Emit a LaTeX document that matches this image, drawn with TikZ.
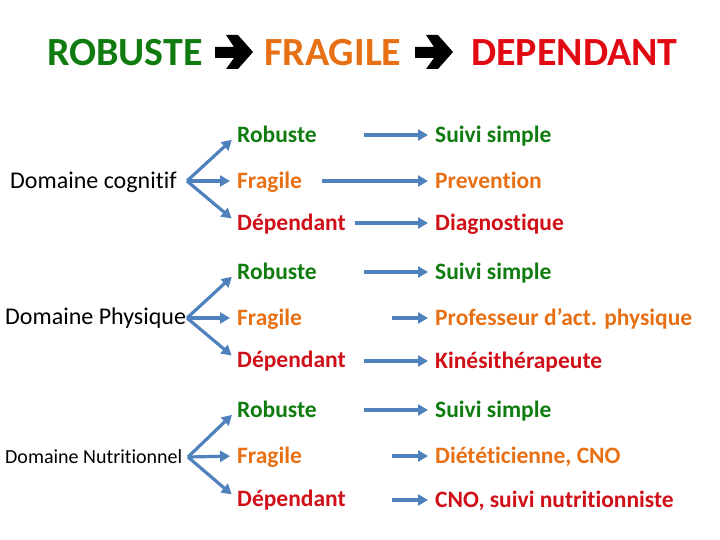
\documentclass[tikz,border=0pt]{standalone}
\usepackage{fontspec}
\setmainfont{Carlito}[Ligatures=NoCommon]
\usetikzlibrary{arrows.meta}
\definecolor{cgreen}{RGB}{16,124,16}
\definecolor{corange}{RGB}{232,112,20}
\definecolor{cred}{RGB}{226,10,18}
\definecolor{cdred}{RGB}{208,16,24}
\definecolor{cblue}{RGB}{79,129,189}
\tikzset{
  titletxt/.style={anchor=base west,inner sep=0pt,font=\bfseries\fontsize{40bp}{44bp}\selectfont},
  domtxt/.style={anchor=west,inner sep=0pt,text height=16bp,text depth=0pt,font=\fontsize{24bp}{28bp}\selectfont},
  levtxt/.style={anchor=west,inner sep=0pt,text height=15bp,text depth=0pt,font=\bfseries\fontsize{23.5bp}{27bp}\selectfont},
  rob/.style={levtxt,text=cgreen},
  fra/.style={levtxt,text=corange},
  dep/.style={levtxt,text=cdred},
  conn/.style={draw=cblue,line width=3.2bp,-{Triangle[length=10bp,width=11bp]},shorten >=7bp},
  bigarrow/.style={fill=black}
}
\begin{document}
\begin{tikzpicture}[x=1bp,y=-1bp]
\useasboundingbox (0,0) rectangle (720,540);
% title
\node[titletxt,text=cgreen] (t1) at (47,66) {ROBUSTE};
\node[titletxt,text=corange] (t2) at (264,66) {FRAGILE};
\node[titletxt,text=cred] (t3) at (471,66) {DEPENDANT};
\foreach \sx in {215,415}{
  \fill[bigarrow,shift={(\sx,0)}] (0,47) -- (19,47) -- (11,35) -- (23,35) -- (38,52) -- (23,69) -- (11,69) -- (19,58) -- (0,58) -- cycle;
}
% domains
\node[domtxt] (d1) at (10,181) {Domaine cognitif};
\node[domtxt] (d2) at (5,316) {Domaine Physique};
\node[domtxt,text height=13bp,font=\fontsize{20bp}{24bp}\selectfont] (d3) at (5,456.5) {Domaine Nutritionnel};
\coordinate (a1) at (187,181);
\coordinate (a2) at (187,318);
\coordinate (a3) at (188,457);
% levels
\node[rob] (m11) at (237,135) {Robuste};
\node[fra] (m12) at (237,181) {Fragile};
\node[dep] (m13) at (237,223) {Dépendant};
\node[rob] (m21) at (237,272) {Robuste};
\node[fra] (m22) at (237,318) {Fragile};
\node[dep] (m23) at (237,360) {Dépendant};
\node[rob] (m31) at (237,410) {Robuste};
\node[fra] (m32) at (237,456) {Fragile};
\node[dep] (m33) at (237,499) {Dépendant};
% outcomes
\node[rob] (r11) at (435,135) {Suivi simple};
\node[fra] (r12) at (435,181) {Prevention};
\node[dep] (r13) at (435,223) {Diagnostique};
\node[rob] (r21) at (435,272) {Suivi simple};
\node[fra] (r22) at (435,318) {Professeur d’act. physique};
\node[dep] (r23) at (435,361) {Kinésithérapeute};
\node[rob] (r31) at (435,410) {Suivi simple};
\node[fra] (r32) at (435,456) {Diététicienne, CNO};
\node[dep] (r33) at (435,500) {CNO, suivi nutritionniste};
% fan arrows
\foreach \g in {1,2,3}{
  \foreach \r in {1,2,3}{
    \draw[conn] (a\g) -- (m\g\r.west);
  }
}
% start points of outcome arrows
\coordinate (s11) at (364,135);
\coordinate (s12) at (322,181);
\coordinate (s13) at (355,223);
\coordinate (s21) at (364,272);
\coordinate (s22) at (392,318);
\coordinate (s23) at (364,361);
\coordinate (s31) at (364,410);
\coordinate (s32) at (392,456);
\coordinate (s33) at (392,500);
\foreach \g in {1,2,3}{
  \foreach \r in {1,2,3}{
    \draw[conn] (s\g\r) -- (r\g\r.west);
  }
}
\end{tikzpicture}
\end{document}
